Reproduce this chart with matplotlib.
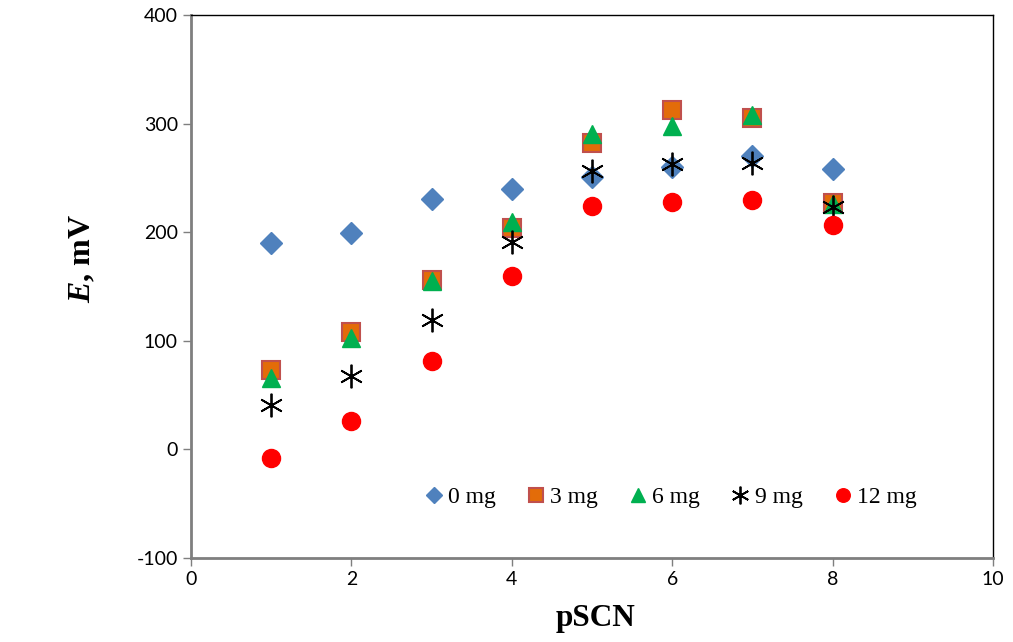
import matplotlib
matplotlib.use("Agg")
import matplotlib.pyplot as plt

plt.rcParams["axes.unicode_minus"] = False
plt.rcParams["mathtext.fontset"] = "custom"
plt.rcParams["mathtext.it"] = "Liberation Serif:italic:bold"
plt.rcParams["mathtext.rm"] = "Liberation Serif:bold"

pscn = [1, 2, 3, 4, 5, 6, 7, 8]
e_0mg = [190, 199, 231, 240, 251, 260, 270, 258]
e_3mg = [73, 108, 156, 204, 282, 313, 305, 227]
e_6mg = [66, 103, 155, 209, 290, 298, 308, 226]
e_9mg = [41, 68, 119, 191, 256, 263, 264, 223]
e_12mg = [-8, 26, 81, 160, 224, 228, 230, 207]
labels = ["0 mg", "3 mg", "6 mg", "9 mg", "12 mg"]

fig = plt.figure(figsize=(10.13, 6.42), dpi=100)
ax = fig.add_axes([0.1885, 0.1308, 0.7917, 0.8458])

ax.plot(pscn, e_0mg, linestyle="none", marker="D", markersize=11, color="#4F81BD",
        markeredgecolor="#4F81BD", label=labels[0])
ax.plot(pscn, e_3mg, linestyle="none", marker="s", markersize=13, color="#E36C09",
        markeredgecolor="#C0504D", markeredgewidth=1.5, label=labels[1])
ax.plot(pscn, e_6mg, linestyle="none", marker="^", markersize=13, color="#00B050",
        markeredgecolor="#00B050", label=labels[2])
ax.plot(pscn, e_9mg, linestyle="none", marker=(6, 2, 0), markersize=17, color="black",
        markeredgewidth=1.3, label=labels[3])
ax.plot(pscn, e_12mg, linestyle="none", marker="o", markersize=13, color="#FF0000",
        markeredgecolor="#FF0000", label=labels[4])

ax.set_xlim(0, 10)
ax.set_ylim(-100, 400)
ax.set_xticks([0, 2, 4, 6, 8, 10])
ax.set_yticks([-100, 0, 100, 200, 300, 400])

for sp in ax.spines.values():
    sp.set_color("black")
    sp.set_linewidth(1.0)
ax.spines["left"].set_color("#7f7f7f")
ax.spines["left"].set_linewidth(2)
ax.spines["bottom"].set_color("#7f7f7f")
ax.spines["bottom"].set_linewidth(2)

ax.tick_params(axis="both", direction="out", length=6, width=1, color="#7f7f7f",
               labelsize=13, labelcolor="black")
for lab in ax.get_xticklabels() + ax.get_yticklabels():
    lab.set_family("Lato")
    lab.set_fontsize(14)

ax.set_xlabel("pSCN", fontfamily="Liberation Serif", fontweight="bold", fontsize=22.5)
ax.xaxis.set_label_coords(0.504, -0.085)
ax.set_ylabel(r"$E$, mV", fontfamily="Liberation Serif", fontweight="bold", fontsize=23)
ax.yaxis.set_label_coords(-0.117, 0.551)

leg = ax.legend(loc="center", bbox_to_anchor=(0.595, 0.112), ncol=5, frameon=False,
                prop={"family": "Liberation Serif", "size": 17},
                handletextpad=0.0, columnspacing=1.1, handlelength=1.2, markerscale=0.75)

fig.savefig("out.png", dpi=100)
